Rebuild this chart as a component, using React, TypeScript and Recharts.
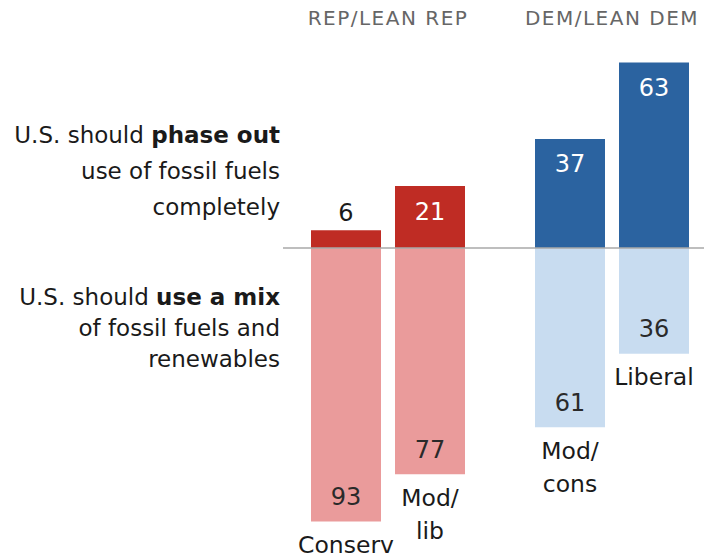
import { BarChart, Bar, XAxis, YAxis, Cell, LabelList, ReferenceLine } from 'recharts';

const groups = ['REP/LEAN REP', 'DEM/LEAN DEM'];
const subgroups = ['Conserv', 'Mod/lib', 'Mod/cons', 'Liberal'];
const phaseOut = [6, 21, 37, 63];
const useMix = [93, 77, 61, 36];

// each party group holds two ideology bars (slot 0 and slot 1)
const data = groups.map((group, g) => ({
  group,
  outA: phaseOut[g * 2],
  mixA: -useMix[g * 2],
  outB: phaseOut[g * 2 + 1],
  mixB: -useMix[g * 2 + 1],
}));

const FONT = '"DejaVu Sans", sans-serif';
const darkFill = ['#bf2c24', '#2b63a0'];
const lightFill = ['#ea9b9b', '#c8dcf0'];

const outLabel = (slot: number) => (props: any) => {
  const { x, y, width, height, index } = props;
  const top = Math.min(y, y + height);
  const inside = Math.abs(height) > 30;
  return (
    <text
      x={x + width / 2}
      y={inside ? top + 25 : top - 18}
      dy="0.35em"
      textAnchor="middle"
      fill={inside ? '#fff' : '#1a1a1a'}
      fontSize={24}
      fontFamily={FONT}
    >
      {phaseOut[index * 2 + slot]}
    </text>
  );
};

const mixLabel = (slot: number) => (props: any) => {
  const { x, y, width, height, index } = props;
  const bottom = Math.max(y, y + height);
  const cx = x + width / 2;
  const lines = subgroups[index * 2 + slot].split(/(?<=\/)/);
  return (
    <g fontFamily={FONT} textAnchor="middle">
      <text x={cx} y={bottom - 25} dy="0.35em" fill="#2a2a2a" fontSize={24}>
        {useMix[index * 2 + slot]}
      </text>
      {lines.map((line, i) => (
        <text key={i} x={cx} y={bottom + 23 + i * 33} dy="0.35em" fill="#1a1a1a" fontSize={23.5}>
          {line}
        </text>
      ))}
    </g>
  );
};

const HeaderTick = ({ x, payload }: any) => (
  <text x={x} y={18} dy="0.35em" textAnchor="middle" fill="#666" fontSize={20} fontFamily={FONT} letterSpacing={1.5}>
    {payload.value}
  </text>
);

export default function App() {
  return (
    <div style={{ position: 'absolute', left: 0, top: 0, width: 712, height: 559, background: '#fff', fontFamily: FONT }}>
      <div style={{ position: 'absolute', left: 0, top: 117, width: 280, textAlign: 'right', fontSize: 23, lineHeight: '36px', color: '#1a1a1a' }}>
        U.S. should <b>phase out</b>
        <br />
        use of fossil fuels
        <br />
        completely
      </div>
      <div style={{ position: 'absolute', left: 0, top: 282, width: 280, textAlign: 'right', fontSize: 23, lineHeight: '31px', color: '#1a1a1a' }}>
        U.S. should <b>use a mix</b>
        <br />
        of fossil fuels and
        <br />
        renewables
      </div>
      <div style={{ position: 'absolute', left: 0, top: 0 }}>
        <BarChart
          width={712}
          height={559}
          data={data}
          stackOffset="sign"
          barSize={70}
          barGap={14}
          margin={{ top: 0, right: 8, bottom: 17, left: 283 }}
        >
          <XAxis
            dataKey="group"
            orientation="top"
            height={42}
            axisLine={false}
            tickLine={false}
            interval={0}
            padding={{ left: -7, right: -20 }}
            tick={<HeaderTick />}
          />
          <YAxis hide domain={[-100, 70]} />
          <Bar dataKey="outA" stackId="a" isAnimationActive={false}>
            {data.map((_, i) => <Cell key={i} fill={darkFill[i]} />)}
            <LabelList dataKey="outA" content={outLabel(0)} />
          </Bar>
          <Bar dataKey="mixA" stackId="a" isAnimationActive={false}>
            {data.map((_, i) => <Cell key={i} fill={lightFill[i]} />)}
            <LabelList dataKey="mixA" content={mixLabel(0)} />
          </Bar>
          <Bar dataKey="outB" stackId="b" isAnimationActive={false}>
            {data.map((_, i) => <Cell key={i} fill={darkFill[i]} />)}
            <LabelList dataKey="outB" content={outLabel(1)} />
          </Bar>
          <Bar dataKey="mixB" stackId="b" isAnimationActive={false}>
            {data.map((_, i) => <Cell key={i} fill={lightFill[i]} />)}
            <LabelList dataKey="mixB" content={mixLabel(1)} />
          </Bar>
          <ReferenceLine y={0} stroke="#a8a8a8" strokeWidth={1.5} />
        </BarChart>
      </div>
    </div>
  );
}
